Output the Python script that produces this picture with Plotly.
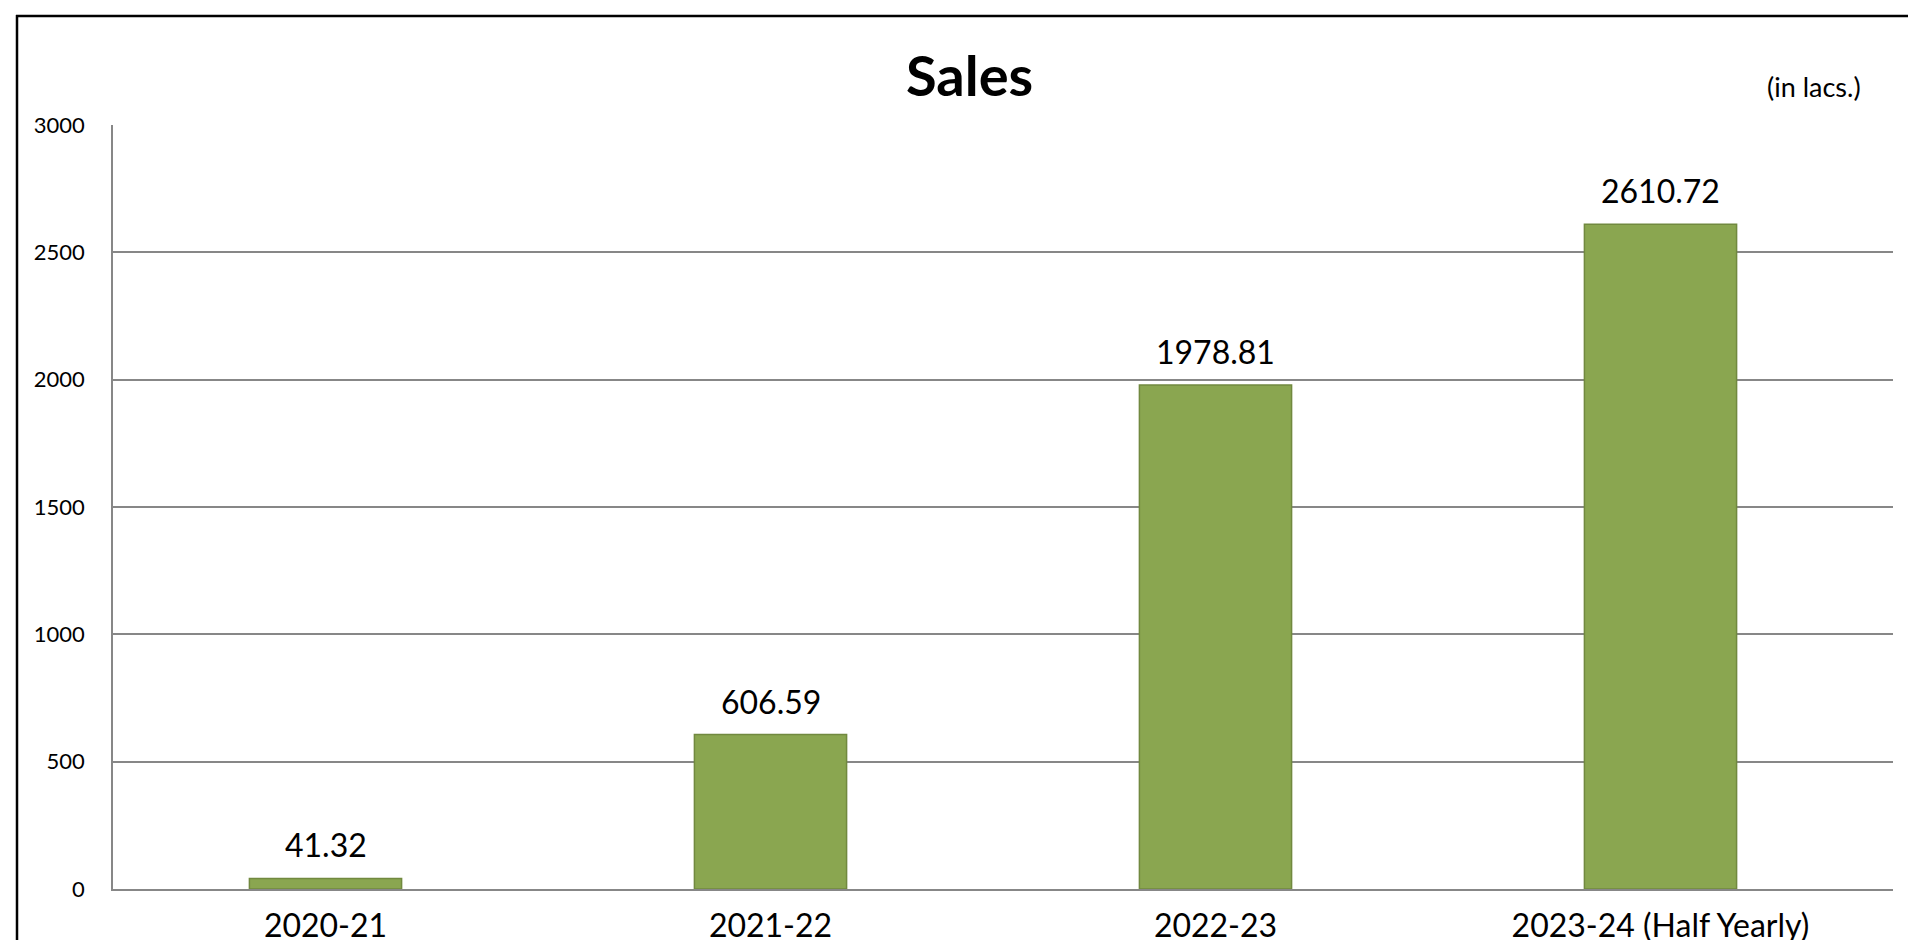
import plotly.graph_objects as go

categories = ["2020-21", "2021-22", "2022-23", "2023-24 (Half Yearly)"]
sales = [41.32, 606.59, 1978.81, 2610.72]
value_labels = ["41.32", "606.59", "1978.81", "2610.72"]
y_ticks = [0, 500, 1000, 1500, 2000, 2500, 3000]

W, H = 1908, 940
L, R, T, B = 113, 1893, 125, 889
FONT = "Lato, 'Open Sans', sans-serif"
GRID = "#878787"

xs = list(range(len(categories)))

fig = go.Figure()
fig.add_trace(go.Bar(
    x=xs, y=sales, width=0.342,
    marker=dict(color="#8AA650", line=dict(color="#71893F", width=1.5)),
    hoverinfo="skip",
))

annotations = []
for xi, v, lab in zip(xs, sales, value_labels):
    annotations.append(dict(x=xi, y=v, xref="x", yref="y", text=lab, showarrow=False,
                            yanchor="bottom", yshift=12,
                            font=dict(size=32, color="#000000", family=FONT)))

def px_x(p):
    return (p - L) / (R - L)

def px_y(p):
    return (B - p) / (B - T)

annotations.append(dict(x=px_x(969), y=px_y(74), xref="paper", yref="paper", text="<b>Sales</b>",
                        showarrow=False, xanchor="center", yanchor="middle",
                        font=dict(size=56, color="#000000", family=FONT)))
annotations.append(dict(x=px_x(1814), y=px_y(87), xref="paper", yref="paper", text="(in lacs.)",
                        showarrow=False, xanchor="center", yanchor="middle",
                        font=dict(size=27, color="#000000", family=FONT)))

border = dict(color="#000000", width=2.5)
shapes = [
    dict(type="line", xref="paper", yref="paper", x0=px_x(16), x1=px_x(1908),
         y0=px_y(16), y1=px_y(16), line=border, layer="below"),
    dict(type="line", xref="paper", yref="paper", x0=px_x(17), x1=px_x(17),
         y0=px_y(15), y1=px_y(940), line=border, layer="below"),
]

fig.update_layout(
    width=W, height=H,
    margin=dict(l=L, r=W - R, t=T, b=H - B, pad=0, autoexpand=False),
    paper_bgcolor="white", plot_bgcolor="white",
    showlegend=False,
    annotations=annotations,
    shapes=shapes,
    xaxis=dict(
        tickmode="array", tickvals=xs, ticktext=categories,
        range=[(L - 325.5) / 445, (R - 325.5) / 445],
        showgrid=False, zeroline=False, automargin=False,
        showline=True, linecolor=GRID, linewidth=1.5,
        ticks="", ticklabelstandoff=8,
        tickfont=dict(size=32, color="#000000", family=FONT),
    ),
    yaxis=dict(
        range=[0, 3000], tickmode="array", tickvals=y_ticks,
        showgrid=True, gridcolor=GRID, gridwidth=1.5, automargin=False,
        zeroline=False, showline=True, linecolor=GRID, linewidth=1.5,
        ticks="", ticklabelstandoff=22,
        tickfont=dict(size=22, color="#000000", family=FONT),
    ),
)

fig.write_html(
    "out.html", config={"displayModeBar": False},
    post_script=("document.body.style.margin='0';document.body.style.overflow='hidden';"
                 "document.documentElement.style.overflow='hidden';"
                 "document.body.style.background='white';"),
)
